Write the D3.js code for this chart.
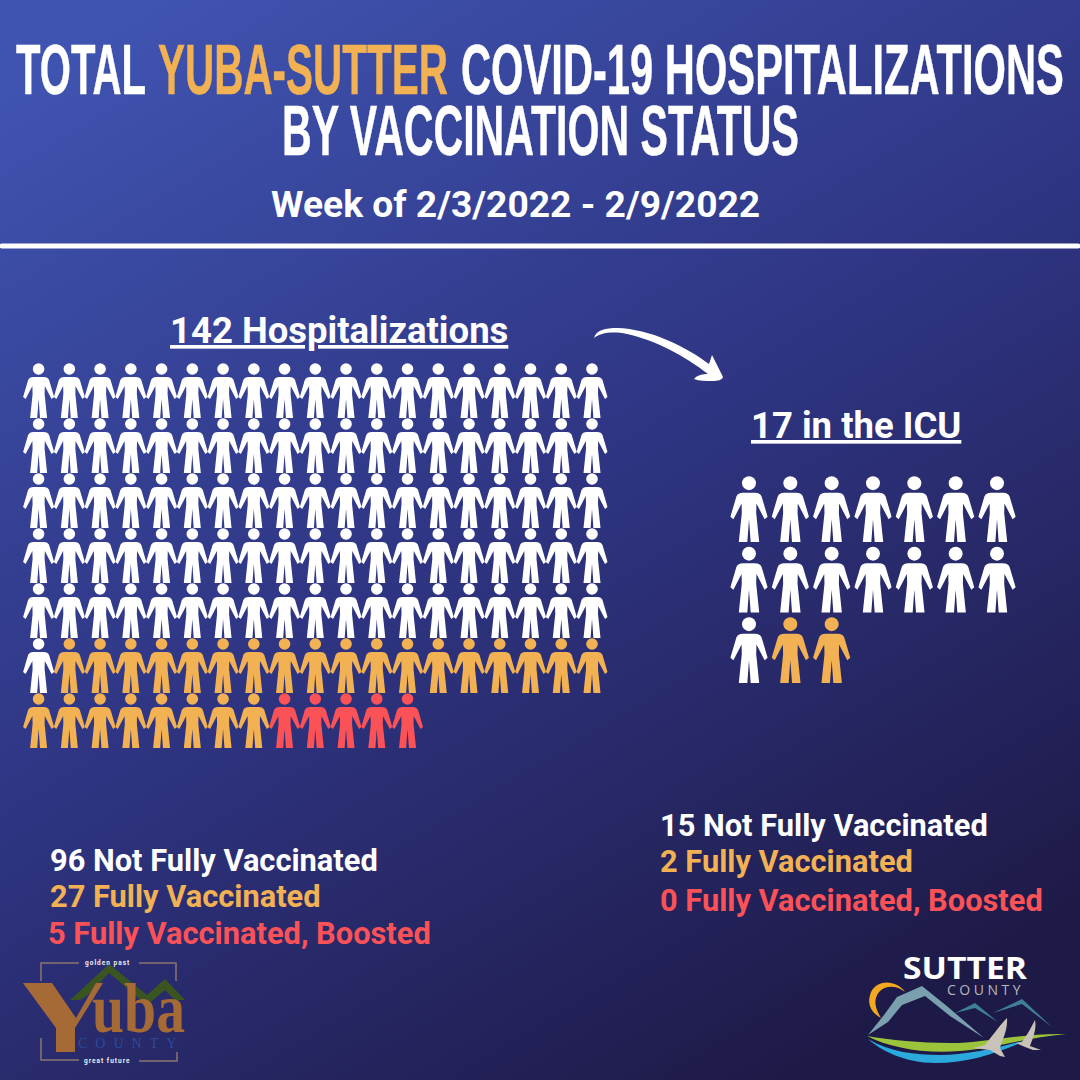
<!DOCTYPE html>
<html>
<head>
<meta charset="utf-8">
<style>
  body { margin: 0; background: #1e1a48; }
  text { font-family: Roboto, sans-serif; font-weight: 700; }
  .title { font-family: "Liberation Sans Narrow", "Liberation Sans", sans-serif; }
</style>
<script src="https://cdn.jsdelivr.net/npm/d3@7"></script>
</head>
<body>
<script>
const w = 1080;
const h = 1080;

const statuses = ["Not Fully Vaccinated", "Fully Vaccinated", "Fully Vaccinated, Boosted"];
const statusColors = ["#ffffff", "#f2b254", "#fb5258"];

// figures as actually drawn (orange row is one short of the printed 27)
const hospitalFigures = [96, 26, 5];
const icuFigures = [15, 2, 0];
// numbers as printed
const hospitalCounts = [96, 27, 5];
const icuCounts = [15, 2, 0];

const hospitalTotal = 142;
const icuTotal = 17;

const svg = d3.select("body").append("svg")
  .attr("width", w)
  .attr("height", h)
  .style("display", "block");

const grad = svg.append("defs").append("linearGradient")
  .attr("id", "bg")
  .attr("x1", 0.12).attr("y1", 0)
  .attr("x2", 0.72).attr("y2", 1);
grad.append("stop").attr("offset", 0).attr("stop-color", "#3f54b1");
grad.append("stop").attr("offset", 0.5).attr("stop-color", "#2f3583");
grad.append("stop").attr("offset", 1).attr("stop-color", "#1e1a48");

svg.append("rect").attr("width", w).attr("height", h).attr("fill", "url(#bg)");

// squeeze or stretch a text to the width it has in the picture
function fit(sel, x, y, width) {
  const len = sel.node().getComputedTextLength();
  sel.attr("transform", `translate(${x},${y}) scale(${width / len},1)`);
}

const titleParts = [
  { text: "TOTAL", x: 16, width: 130, y: 94, color: "#ffffff" },
  { text: "YUBA-SUTTER", x: 158, width: 290, y: 94, color: "#f2b254" },
  { text: "COVID-19 HOSPITALIZATIONS", x: 461, width: 603, y: 94, color: "#ffffff" },
  { text: "BY VACCINATION STATUS", x: 282, width: 517, y: 155, color: "#ffffff" }
];
titleParts.forEach(d => {
  const t = svg.append("text")
    .attr("class", "title")
    .attr("font-size", 71)
    .attr("fill", d.color)
    .attr("stroke", d.color)
    .attr("stroke-width", 0.5)
    .text(d.text);
  fit(t, d.x, d.y, d.width);
});

svg.append("text")
  .attr("x", 271).attr("y", 217)
  .attr("font-size", 37.2)
  .attr("fill", "#fff")
  .text("Week of 2/3/2022 - 2/9/2022");

svg.append("line")
  .attr("x1", 2).attr("x2", 1078)
  .attr("y1", 246).attr("y2", 246)
  .attr("stroke", "#fff")
  .attr("stroke-width", 5)
  .attr("stroke-linecap", "round");

svg.append("text")
  .attr("x", 170).attr("y", 343)
  .attr("font-size", 36.5)
  .attr("fill", "#fff")
  .attr("text-decoration", "underline")
  .text(hospitalTotal + " Hospitalizations");

svg.append("text")
  .attr("x", 751).attr("y", 438)
  .attr("font-size", 36.5)
  .attr("fill", "#fff")
  .attr("text-decoration", "underline")
  .text(icuTotal + " in the ICU");

// arrow
svg.append("path")
  .attr("d", "M594,338 C596,330 606,328 617,328 C650,329 685,346 709,364 L712,355 L723,377 C722,380 718,381 712,381 C706,381 699,381 694,379 C697,375 703,374 708,374 C685,356 655,340 627,334 C612,331 600,333 594,338 Z")
  .attr("fill", "#fff");

// person figure, 55 tall, origin at top centre
const personPath = "M0,14 L5,14 C8,14 9.5,15 10.5,17 L15.5,34 L13,36 L6.2,23 L6,31 L8.5,55 L1.4,55 L0,36 L-1.4,55 L-8.5,55 L-6,31 L-6.2,23 L-13,36 L-15.5,34 L-10.5,17 C-9.5,15 -8,14 -5,14 Z";

function expand(counts) {
  const out = [];
  counts.forEach((n, s) => d3.range(n).forEach(() => out.push(s)));
  return out;
}

function drawFigures(counts, perRow, x, y, scale) {
  const g = svg.append("g");
  const fig = g.selectAll("g").data(expand(counts)).enter().append("g")
    .attr("transform", (d, i) => `translate(${x(i % perRow)},${y(Math.floor(i / perRow))}) scale(${scale})`)
    .attr("fill", d => statusColors[d]);
  fig.append("circle").attr("cx", 0).attr("cy", 6).attr("r", 5.8);
  fig.append("path").attr("d", personPath);
}

const hospX = d3.scaleLinear().domain([0, 18]).range([38.6, 592]);
const hospY = d3.scaleLinear().domain([0, 6]).range([363, 693]);
drawFigures(hospitalFigures, 19, hospX, hospY, 1);

const icuX = d3.scaleLinear().domain([0, 6]).range([749, 997]);
const icuY = d3.scaleLinear().domain([0, 2]).range([476, 617]);
drawFigures(icuFigures, 7, icuX, icuY, 1.2);

// legend text blocks
const hospLegendX = [50, 50, 48];
const hospLegendY = [871, 907, 944];
const icuLegendY = [836, 872, 911];

svg.selectAll("text.hosp").data(statuses).enter().append("text")
  .attr("class", "hosp")
  .attr("x", (d, i) => hospLegendX[i])
  .attr("y", (d, i) => hospLegendY[i])
  .attr("font-size", 30.8)
  .attr("fill", (d, i) => statusColors[i])
  .text((d, i) => hospitalCounts[i] + " " + d);

svg.selectAll("text.icu").data(statuses).enter().append("text")
  .attr("class", "icu")
  .attr("x", 660)
  .attr("y", (d, i) => icuLegendY[i])
  .attr("font-size", 30.8)
  .attr("fill", (d, i) => statusColors[i])
  .text((d, i) => icuCounts[i] + " " + d);

// Yuba County logo
const yuba = svg.append("g");
yuba.append("path")
  .attr("d", "M41,981 V963 H79 M139,963 H176 V981 M41,1038 V1060 H79 M139,1061 H177 V1052")
  .attr("fill", "none").attr("stroke", "#8d7472").attr("stroke-width", 1.5);
yuba.append("path")
  .attr("d", "M70,1000 L109,964 L147,995 L165,979 L185,1000 L175,1000 L165,990 L147,1005 L109,973 L88,995 L80,1000 Z")
  .attr("fill", "#3a5520");
yuba.append("path")
  .attr("d", "M23,983 L52,983 L76,1018 L96,983 L103,983 L75,1028 L75,1052 L56,1052 L56,1028 Z")
  .attr("fill", "#a56a35");
const uba = yuba.append("text")
  .attr("font-size", 70)
  .style("font-family", "Liberation Serif")
  .attr("fill", "#a56a35")
  .text("uba");
fit(uba, 92, 1032, 93);
yuba.append("text")
  .attr("x", 78).attr("y", 1048)
  .attr("font-size", 14)
  .attr("letter-spacing", 8)
  .style("font-family", "Liberation Serif")
  .style("font-weight", 400)
  .attr("fill", "#2c4a9c")
  .text("COUNTY");
yuba.append("text")
  .attr("x", 85).attr("y", 965)
  .attr("font-size", 6.5)
  .attr("letter-spacing", 1)
  .attr("fill", "#eee")
  .text("golden past");
yuba.append("text")
  .attr("x", 84).attr("y", 1063)
  .attr("font-size", 6.5)
  .attr("letter-spacing", 1)
  .attr("fill", "#eee")
  .text("great future");

// Sutter County logo
const sutter = svg.append("g");
const sutterName = sutter.append("text")
  .attr("font-size", 31)
  .style("font-family", "Open Sans")
  .attr("fill", "#fff")
  .text("SUTTER");
fit(sutterName, 903, 979, 124);
sutter.append("text")
  .attr("x", 947).attr("y", 995)
  .attr("font-size", 14)
  .attr("letter-spacing", 3.5)
  .style("font-family", "Open Sans")
  .style("font-weight", 400)
  .attr("fill", "#b8b8b8")
  .text("COUNTY");
sutter.append("path")
  .attr("d", "M905,992 C897,980 875,978 870,995 C867,1005 872,1013 881,1018 C875,1008 873,1000 879,992 C885,985 897,985 905,992 Z")
  .attr("fill", "#f4a81f");
sutter.append("path")
  .attr("d", "M868,1035 L884,1015 L897,997 L922,986 L948,1007 L984,1038 L950,1016 L925,996 L902,1005 L888,1022 Z")
  .attr("fill", "#7a9fae");
sutter.append("path")
  .attr("d", "M955,1013 L975,1003 L998,1022 L975,1008 Z M993,1013 L1022,999 L1052,1027 L1022,1004 Z")
  .attr("fill", "#3f7f99");
sutter.append("path")
  .attr("d", "M867,1036 C890,1040 920,1043 950,1043 C985,1043 1020,1033 1066,1034 C1030,1037 1000,1047 960,1051 C925,1054 890,1048 867,1036 Z")
  .attr("fill", "#9cc43a");
sutter.append("path")
  .attr("d", "M868,1039 C890,1052 915,1055 940,1055 C970,1055 1000,1047 1027,1040 C1000,1052 970,1063 935,1063 C905,1063 880,1050 868,1039 Z")
  .attr("fill", "#2ba9dc");
sutter.append("path")
  .attr("d", "M1007,1018 C1008,1030 1002,1040 1000,1048 L1005,1057 L1000,1056 L990,1050 L973,1048 L985,1045 C993,1035 1000,1025 1007,1018 Z M1035,1020 C1037,1030 1032,1040 1030,1046 L1041,1050 L1033,1050 L1025,1047 L1016,1043 L1022,1042 C1027,1035 1031,1028 1035,1020 Z")
  .attr("fill", "#c8c2b8");
</script>
</body>
</html>
